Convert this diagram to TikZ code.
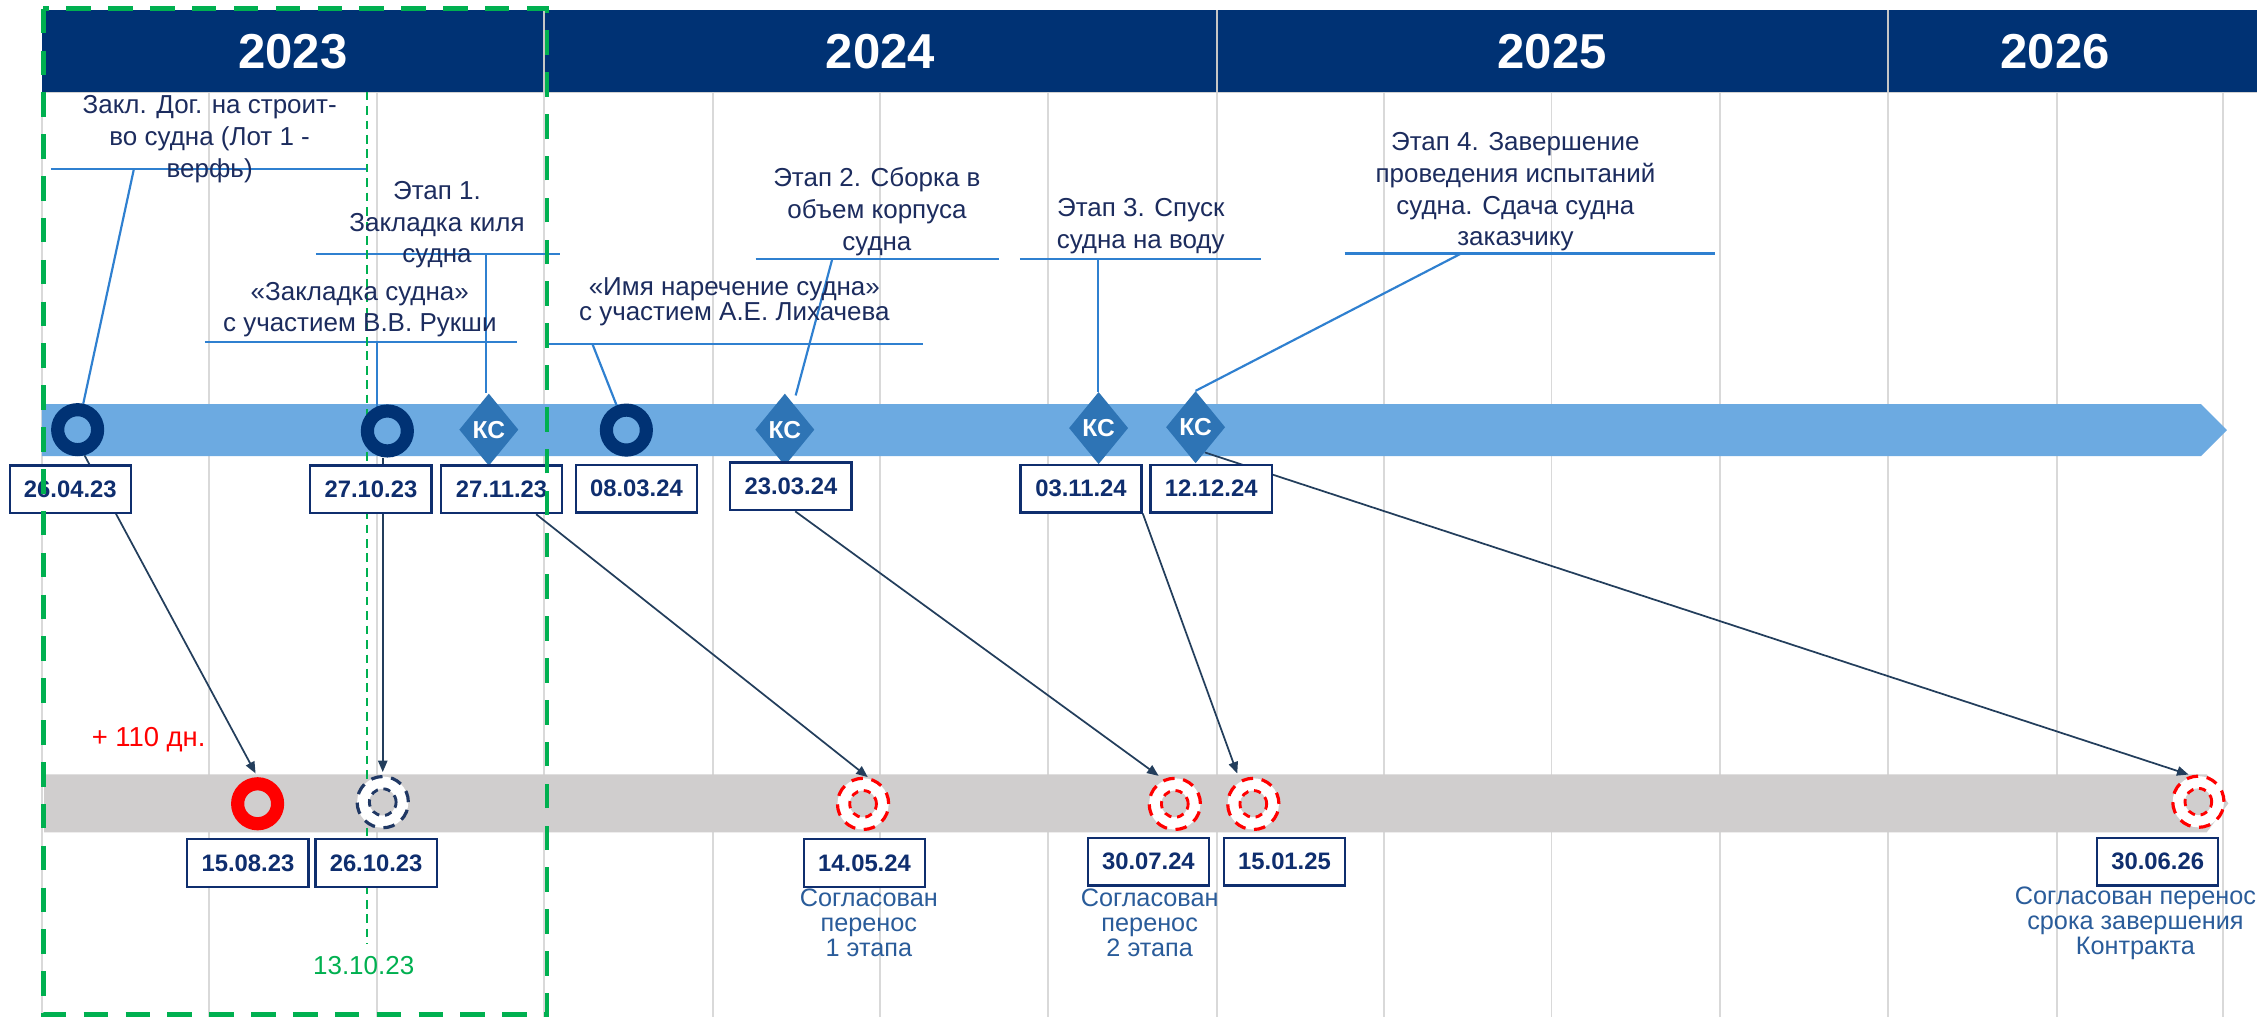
\documentclass[tikz,border=0pt]{standalone}
\usepackage{fontspec}
\setmainfont{Liberation Sans}
\usetikzlibrary{shapes.geometric,arrows.meta,calc}
\pgfdeclarelayer{back}
\pgfdeclarelayer{mid}
\pgfsetlayers{back,mid,main}
\definecolor{hdrnavy}{HTML}{003274}
\definecolor{bandblue}{HTML}{6CAAE1}
\definecolor{bandgrey}{HTML}{D0CECE}
\definecolor{gridgrey}{HTML}{D9D9D9}
\definecolor{kcblue}{HTML}{2E74B5}
\definecolor{boxnavy}{HTML}{0F2E6E}
\definecolor{calltext}{HTML}{1C2C5E}
\definecolor{callline}{HTML}{2F80D0}
\definecolor{arrcol}{HTML}{233E5C}
\definecolor{capblue}{HTML}{2A5C9A}
\definecolor{dnavy}{HTML}{203864}
\definecolor{mygreen}{HTML}{00B050}
\definecolor{myred}{HTML}{FF0000}
\begin{document}
\begin{tikzpicture}[x=1pt,y=-1pt,
  gridln/.style={draw=gridgrey, line width=1.3pt},
  yearlbl/.style={text=white, inner sep=0pt, font=\fontsize{34}{40}\selectfont\bfseries},
  ring/.style={circle, draw=#1, line width=9.1pt, minimum size=27.7pt, inner sep=0pt},
  dring/.style={circle, draw=#1, fill=white, line width=2.2pt, dash pattern=on 8pt off 6pt, minimum size=35.5pt, inner sep=0pt},
  dhole/.style={circle, draw=#1, fill=bandgrey, line width=2pt, dash pattern=on 5pt off 4pt, minimum size=18.5pt, inner sep=0pt},
  kc/.style={diamond, fill=kcblue, minimum width=41pt, minimum height=50pt, inner sep=0pt, text=white, font=\fontsize{17}{20}\selectfont\bfseries},
  datebox/.style={draw=boxnavy, fill=white, line width=1.6pt, minimum width=84pt, minimum height=33pt, inner sep=0pt, text=boxnavy, font=\fontsize{16.5}{20}\selectfont\bfseries},
  callout/.style={align=center, text=calltext, inner sep=0pt, font=\fontsize{18}{22}\selectfont},
  uline/.style={draw=callline, line width=1.5pt},
  arr/.style={draw=arrcol, line width=1.2pt, -{Triangle[length=8pt,width=6.5pt]}},
  capt/.style={align=center, text=capblue, inner sep=0pt, font=\fontsize{17.5}{17.4}\selectfont},
]
\useasboundingbox (0,0) rectangle (1568,704.6);

\begin{pgfonlayer}{back}
  \fill[white] (0,0) rectangle (1568,704.6);
  \foreach \gx in {29,145,261,377,494,610,726,843,959,1075,1192,1308,1425,1540}
    \draw[gridln] (\gx,63.5) -- (\gx,704.6);
  \fill[hdrnavy] (29,7) rectangle (1564,63.5);
  \draw[gray!35, line width=1pt] (29,64) -- (1564,64);
  \foreach \gx in {377,843,1308}
    \draw[gray!45, line width=1.2pt] (\gx,7) -- (\gx,63.5);
  \fill[bandblue] (29,280) -- (1525,280) -- (1543,298) -- (1525,316) -- (29,316) -- cycle;
  \fill[bandgrey] (30.5,536.5) -- (1529,536.5) -- (1544,556.6) -- (1529,576.7) -- (30.5,576.7) -- cycle;
\end{pgfonlayer}

% year labels
\node[yearlbl] (y23) at (203,36) {2023};
\node[yearlbl] (y24) at (610,36) {2024};
\node[yearlbl] (y25) at (1075.5,36) {2025};
\node[yearlbl] (y26) at (1424,36) {2026};

% top markers
\node[ring=hdrnavy] (r1) at (53.8,297.7) {};
\node[ring=hdrnavy] (r2) at (268.4,298.6) {};
\node[kc] (kc1) at (338.7,297.7) {КС};
\node[ring=hdrnavy] (r3) at (434,298) {};
\node[kc] (kc2) at (543.8,297.7) {КС};
\node[kc] (kc3) at (761.2,296.6) {КС};
\node[kc] (kc4) at (828.4,296) {КС};

% top date boxes
\node[datebox] (d1) at (48.7,339) {26.04.23};
\node[datebox] (d2) at (257,339) {27.10.23};
\node[datebox] (d3) at (347.5,339) {27.11.23};
\node[datebox] (d4) at (441,338.5) {08.03.24};
\node[datebox] (d5) at (548,337) {23.03.24};
\node[datebox] (d6) at (749,338.5) {03.11.24};
\node[datebox] (d7) at (839.2,338.5) {12.12.24};

% bottom markers
\node[ring=myred] (m1) at (178.5,556.9) {};
\node[dring=dnavy] (m2) at (265.2,555.8) {};
\node[dhole=dnavy] (m2h) at (m2) {};
\node[dring=myred] (m3) at (598,557) {};
\node[dhole=myred] (m3h) at (m3) {};
\node[dring=myred] (m4) at (814,557) {};
\node[dhole=myred] (m4h) at (m4) {};
\node[dring=myred] (m5) at (868.4,557) {};
\node[dhole=myred] (m5h) at (m5) {};
\node[dring=myred] (m6) at (1523.2,555.5) {};
\node[dhole=myred] (m6h) at (m6) {};

% bottom date boxes
\node[datebox] (b1) at (171.8,598) {15.08.23};
\node[datebox] (b2) at (260.6,598) {26.10.23};
\node[datebox] (b3) at (599,598) {14.05.24};
\node[datebox] (b4) at (795.7,597) {30.07.24};
\node[datebox] (b5) at (890,597) {15.01.25};
\node[datebox] (b6) at (1495,597) {30.06.26};

% captions
\node[capt] (c1) at (602,639.5) {Согласован\\перенос\\1 этапа};
\node[capt] (c2) at (796.6,639.5) {Согласован\\перенос\\2 этапа};
\node[capt] (c3) at (1479.6,640) {Согласован перенос\\срока завершения\\Контракта};

\node[text=myred, inner sep=0pt, font=\fontsize{19}{22}\selectfont] (delay) at (103,512.5) {+ 110 дн.};
\node[text=mygreen, inner sep=0pt, font=\fontsize{18}{22}\selectfont] (gdate) at (252,669) {13.10.23};

% callout texts
\node[callout] (t1) at (145.3,96.4) {Закл. Дог. на строит-\\во судна (Лот 1 -\\верфь)};
\node[callout] (t2) at (302.8,155.7) {Этап 1.\\Закладка киля\\судна};
\node[callout] (t3) at (249.3,214.5) {«Закладка судна»\\с участием В.В. Рукши};
\node[callout, font=\fontsize{18}{17.3}\selectfont] (t4) at (508.8,209) {«Имя наречение судна»\\с участием А.Е. Лихачева};
\node[callout] (t5) at (607.6,146.6) {Этап 2. Сборка в\\объем корпуса\\судна};
\node[callout] (t6) at (790.4,156.5) {Этап 3. Спуск\\судна на воду};
\node[callout] (t7) at (1050,133) {Этап 4. Завершение\\проведения испытаний\\судна. Сдача судна\\заказчику};

\begin{pgfonlayer}{mid}
  % underlines and leaders
  \coordinate (u1a) at (35.2,117); \coordinate (u1b) at (255,117); \coordinate (l1) at (92.8,117);
  \draw[uline] (u1a) -- (u1b); \draw[uline] (l1) -- (r1);
  \coordinate (u2a) at (218.8,176); \coordinate (u2b) at (387.7,176); \coordinate (l2) at (336.8,176);
  \draw[uline] (u2a) -- (u2b); \draw[uline] (l2) -- (l2 |- kc1.north);
  \coordinate (u3a) at (141.9,237.2); \coordinate (u3b) at (358,237.2); \coordinate (l3) at (261.2,237.2);
  \draw[uline] (u3a) -- (u3b); \draw[uline] (l3) -- ($(l3 |- r2.north)+(0,3)$);
  \coordinate (u4a) at (379,238.4); \coordinate (u4b) at (639.5,238.4); \coordinate (l4) at (410.5,238.4);
  \draw[uline] (u4a) -- (u4b); \draw[uline] (l4) -- (r3);
  \coordinate (u5a) at (523.5,179.7); \coordinate (u5b) at (692,179.7); \coordinate (l5) at (576.6,179.7);
  \draw[uline] (u5a) -- (u5b); \draw[uline] (l5) -- ($(kc2.north)+(7.5,1.5)$);
  \coordinate (u6a) at (706.6,179.5); \coordinate (u6b) at (874,179.5); \coordinate (l6) at (761,179.5);
  \draw[uline] (u6a) -- (u6b); \draw[uline] (l6) -- (l6 |- kc3.north);
  \coordinate (u7a) at (931.7,175.6); \coordinate (u7b) at (1188.5,175.6); \coordinate (l7) at (1012.5,175.6);
  \draw[uline] (u7a) -- (u7b); \draw[uline] (l7) -- (kc4.north);

  % green thin dashed line
  \coordinate (g1) at (254,63.5); \coordinate (g2) at (254,654);
  \draw[mygreen, line width=1.4pt, dash pattern=on 6pt off 4pt] (g1) -- (g2);

  % arrows
  \draw[arr, shorten >=3pt] (r1.-75) -- (m1.north);
  \draw[arr, shorten >=2pt] (r2.south -| m2.north) -- (m2.north);
  \draw[arr] ($(d3.south)+(24,0)$) -- (m3.80);
  \draw[arr, shorten >=4pt] ($(d5.south)+(3,0)$) -- (m4.115);
  \draw[arr, shorten >=5pt] (d6.south east) -- (m5.120);
  \draw[arr, shorten >=2pt] (kc4.-70) -- (m6.105);
\end{pgfonlayer}

% green dashed frame
\draw[mygreen, line width=3.3pt, dash pattern=on 17pt off 12pt] (30,6) rectangle (379,703);
\end{tikzpicture}
\end{document}
